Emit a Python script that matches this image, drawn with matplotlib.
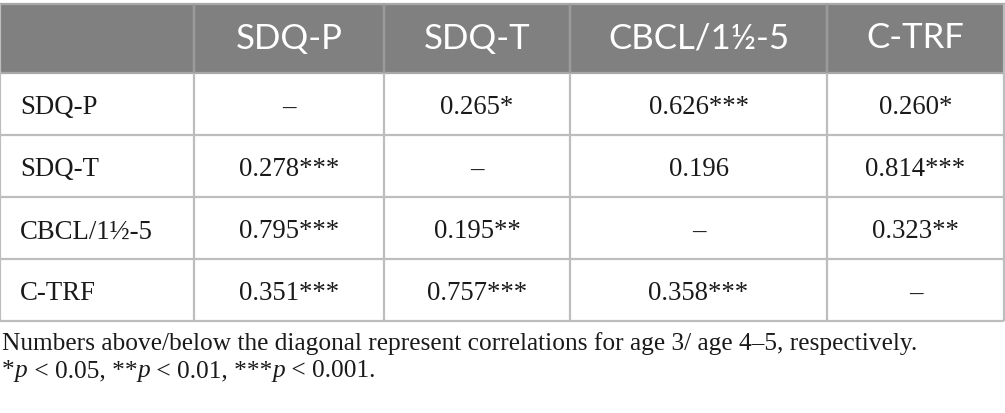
import matplotlib
matplotlib.use("Agg")
import matplotlib.pyplot as plt
from matplotlib.patches import Rectangle

# ---- data ----
col_labels = ["SDQ-P", "SDQ-T", "CBCL/1½-5", "C-TRF"]
row_labels = ["SDQ-P", "SDQ-T", "CBCL/1½-5", "C-TRF"]
cells = [
    ["–", "0.265*", "0.626***", "0.260*"],
    ["0.278***", "–", "0.196", "0.814***"],
    ["0.795***", "0.195**", "–", "0.323**"],
    ["0.351***", "0.757***", "0.358***", "–"],
]
note_line1 = "Numbers above/below the diagonal represent correlations for age 3/ age 4–5, respectively."
note_line2 = [("*", False), ("p", True), (" < 0.05, **", False), ("p", True),
              (" < 0.01, ***", False), ("p", True), (" < 0.001.", False)]

# ---- layout (pixels) ----
W, H = 1005, 413
col_edges = [0, 194, 384, 570, 827, 1004]
header_top, header_bot = 4, 73
row_h = 62
line_col = "#bdbdbd"
header_col = "#808080"
serif = "Liberation Serif"
sans = "Lato"
body_size = 19.3
note_size = 18.3
head_size = 25

fig = plt.figure(figsize=(W / 100, H / 100), dpi=100)
ax = fig.add_axes([0, 0, 1, 1])
ax.set_xlim(0, W)
ax.set_ylim(H, 0)
ax.axis("off")

n_rows = len(row_labels)
table_bot = header_bot + row_h * n_rows

# header background
ax.add_patch(Rectangle((col_edges[0], header_top), col_edges[-1] - col_edges[0],
                       header_bot - header_top, facecolor=header_col, edgecolor="none"))

# header labels
for j, lab in enumerate(col_labels):
    cx = (col_edges[j + 1] + col_edges[j + 2]) / 2
    ax.text(cx, 48.5, lab, ha="center", va="baseline",
            color="white", fontsize=head_size, family=sans)

# body
for i, rl in enumerate(row_labels):
    y0 = header_bot + i * row_h
    base = y0 + 41.5
    ax.text(col_edges[0] + 20, base, rl, ha="left", va="baseline",
            fontsize=body_size, family=serif, color="#1a1a1a")
    for j, val in enumerate(cells[i]):
        cx = (col_edges[j + 1] + col_edges[j + 2]) / 2
        ax.text(cx, base, val, ha="center", va="baseline",
                fontsize=body_size, family=serif, color="#1a1a1a")

# grid lines
lw = 1.6
for k in range(1, n_rows + 1):
    y = header_bot + k * row_h
    ax.plot([col_edges[0], col_edges[-1]], [y, y], color=line_col, lw=lw, solid_capstyle="butt")
ax.plot([col_edges[0], col_edges[-1]], [header_top, header_top], color="#a8a8a8", lw=lw)
ax.plot([col_edges[0], col_edges[-1]], [header_bot, header_bot], color="#a8a8a8", lw=lw)
for x in col_edges:
    ax.plot([x, x], [header_top, table_bot], color=line_col, lw=lw, solid_capstyle="butt")
for x in col_edges[1:-1]:
    ax.plot([x, x], [header_top, header_bot], color="#9a9a9a", lw=lw, solid_capstyle="butt")

# footnotes
ax.text(2, 350, note_line1, ha="left", va="baseline", fontsize=note_size,
        family=serif, color="#1a1a1a")

fig.canvas.draw()
renderer = fig.canvas.get_renderer()
inv = ax.transData.inverted()
x = 2
for txt, ital in note_line2:
    t = ax.text(x, 377, txt, ha="left", va="baseline", fontsize=note_size, family=serif,
                style="italic" if ital else "normal", color="#1a1a1a")
    bb = t.get_window_extent(renderer)
    x = inv.transform((bb.x1, bb.y1))[0]

fig.savefig("out.png", dpi=100)
